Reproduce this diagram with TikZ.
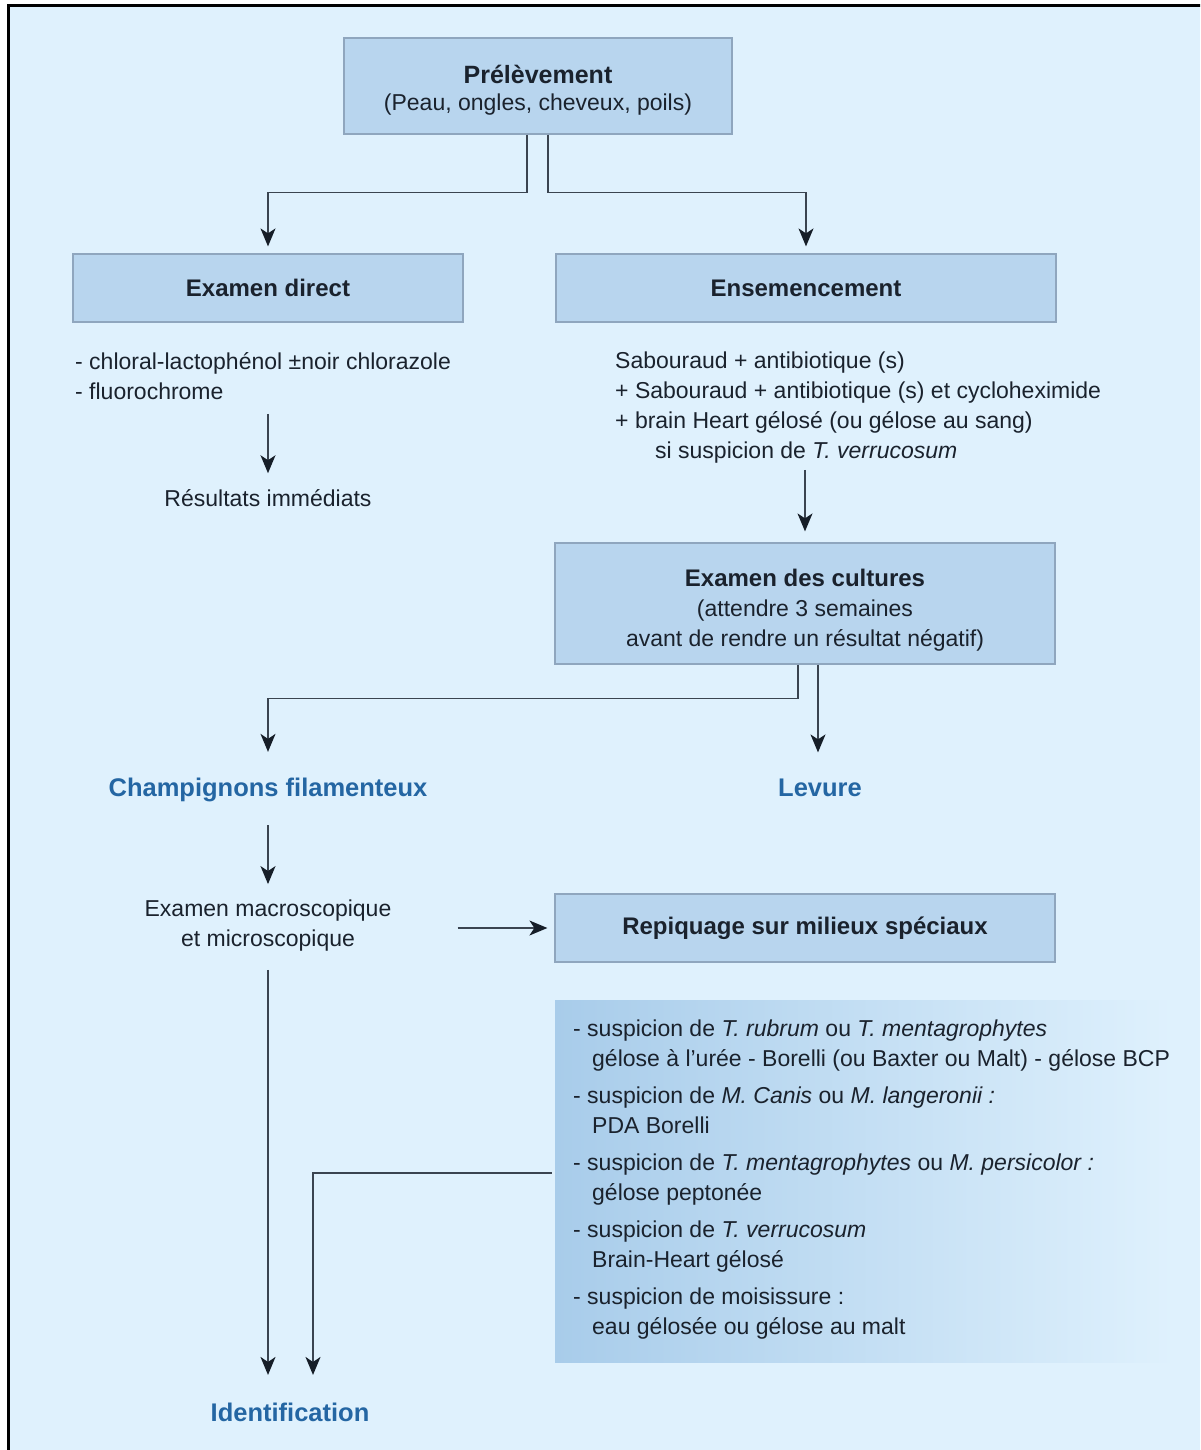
\documentclass[tikz,border=0pt]{standalone}
\usepackage{fontspec}
\setmainfont{Liberation Sans}
\usetikzlibrary{arrows.meta,calc}
\definecolor{bgc}{RGB}{223,241,253}
\definecolor{boxc}{RGB}{184,213,238}
\definecolor{boxd}{RGB}{143,166,190}
\definecolor{txtc}{RGB}{26,34,45}
\definecolor{bluec}{RGB}{36,102,163}
\definecolor{linec}{RGB}{58,68,80}
\definecolor{tipc}{RGB}{22,30,40}
\definecolor{gradl}{RGB}{168,204,234}
\begin{document}
\begin{tikzpicture}[x=1pt,y=-1pt,
 boxn/.style={draw=boxd, line width=1.2pt, fill=boxc, text=txtc, align=center, inner sep=0pt},
 hd/.style={font=\fontsize{24}{30}\selectfont\bfseries},
 body/.style={text=txtc, font=\fontsize{23}{30}\selectfont, inner sep=0pt},
 blu/.style={text=bluec, font=\fontsize{25.5}{30}\selectfont\bfseries, inner sep=0pt},
 arr/.style={draw=linec, line width=1.5pt, -{Stealth[length=18pt,width=15pt,inset=5pt,color=tipc]}}]
\useasboundingbox (0,0) rectangle (1200,1450);
\clip (0,0) rectangle (1200,1450);
\fill[white] (0,0) rectangle (1200,1450);
\fill[bgc] (8,6) rectangle (1200,1450);
\draw[black, line width=3pt] (8,1460) -- (8,6) -- (1210,6);

\node[boxn, minimum width=388pt, minimum height=96pt, font=\fontsize{23}{27}\selectfont] (prelev) at (538,86)
  {\rule{0pt}{27pt}{\fontsize{25}{27}\selectfont\bfseries Prélèvement}\\(Peau, ongles, cheveux, poils)};
\node[boxn, hd, minimum width=390pt, minimum height=68pt] (exdir) at (268,288) {Examen direct};
\node[boxn, hd, minimum width=500pt, minimum height=68pt] (ensem) at (806,288) {Ensemencement};
\node[body, anchor=west, align=left] (exdtxt) at (75,376)
  {- chloral-lactophénol ±noir chlorazole\\- fluorochrome};
\node[body] (res) at (268,498) {Résultats immédiats};
\node[body, anchor=west, align=left] (enstxt) at (615,408)
  {Sabouraud + antibiotique (s)\\+ Sabouraud + antibiotique (s) et cycloheximide\\+ brain Heart gélosé (ou gélose au sang)\\\hspace*{40pt}si suspicion de \textit{T. verrucosum}};
\node[boxn, minimum width=500pt, minimum height=121pt, font=\fontsize{23}{30}\selectfont] (cult) at (805,603.5)
  {\rule{0pt}{30pt}{\fontsize{24}{30}\selectfont\bfseries Examen des cultures}\\(attendre 3 semaines\\avant de rendre un résultat négatif)};
\node[blu] (champ) at (268,790) {Champignons filamenteux};
\node[blu] (lev) at (820,787.5) {Levure};
\node[body, align=center] (macro) at (268,926) {Examen macroscopique\\et microscopique};
\node[boxn, hd, minimum width=500pt, minimum height=68pt] (repiq) at (805,928) {Repiquage sur milieux spéciaux};
\node[draw=none, left color=gradl, right color=bgc, minimum width=620pt, minimum height=362pt, inner sep=0pt] (grad) at (865,1181) {};
\node[body, anchor=west, align=left] (gradtxt) at (573,1180)
  {- suspicion de \textit{T. rubrum} ou \textit{T. mentagrophytes}\\
   \hspace*{19pt}gélose à l'urée - Borelli (ou Baxter ou Malt) - gélose BCP\\[7pt]
   - suspicion de \textit{M. Canis} ou \textit{M. langeronii :}\\
   \hspace*{19pt}PDA Borelli\\[7pt]
   - suspicion de \textit{T. mentagrophytes} ou \textit{M. persicolor :}\\
   \hspace*{19pt}gélose peptonée\\[7pt]
   - suspicion de \textit{T. verrucosum}\\
   \hspace*{19pt}Brain-Heart gélosé\\[7pt]
   - suspicion de moisissure :\\
   \hspace*{19pt}eau gélosée ou gélose au malt};
\node[blu] (ident) at (290,1412.5) {Identification};

\draw[arr, shorten >=7pt] ([xshift=-11pt]prelev.south) -- ++(0,58) -| (exdir.north);
\draw[arr, shorten >=7pt] ([xshift=10pt]prelev.south) -- ++(0,58) -| (ensem.north);
\draw[arr, shorten <=14pt, shorten >=16pt] (exdtxt.south -| res.north) -- (res.north);
\draw[arr, shorten <=6pt, shorten >=11pt] (enstxt.south -| cult.north) -- (cult.north);
\draw[arr, shorten >=26pt] ([xshift=-7pt]cult.south) -- ++(0,34) -| (champ.north);
\draw[arr, shorten >=26pt] ([xshift=13pt]cult.south) -- ([xshift=13pt]cult.south |- lev.north);
\draw[arr, shorten <=23pt, shorten >=16pt] (champ.south) -- (macro.north);
\draw[arr, shorten <=66pt, shorten >=7pt] (macro.east |- repiq.west) -- (repiq.west);
\draw[arr, shorten <=18pt, shorten >=28pt] (macro.south) -- (macro.south |- ident.north);
\draw[arr, shorten >=28pt] ([yshift=8pt,xshift=-3pt]grad.west) -| ([xshift=23pt]ident.north);
\end{tikzpicture}
\end{document}
